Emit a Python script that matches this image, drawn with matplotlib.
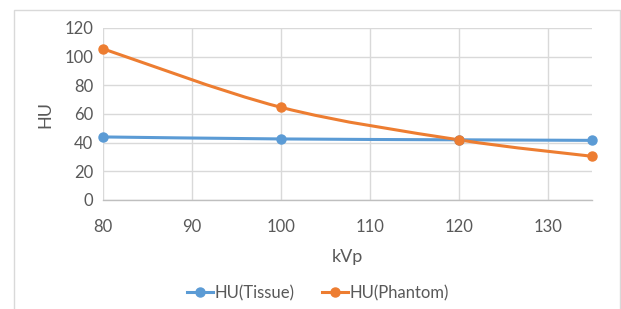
import matplotlib
matplotlib.use("Agg")
import matplotlib.pyplot as plt
from matplotlib.path import Path
from matplotlib.patches import PathPatch, Rectangle
from matplotlib.lines import Line2D
import numpy as np

kvp = [80, 100, 120, 135]
hu_tissue = [44, 42.6, 42, 41.6]
hu_phantom = [105.5, 64.7, 42, 30.5]
series_names = ["HU(Tissue)", "HU(Phantom)"]
colors = ["#5B9BD5", "#ED7D31"]
x_ticks = [80, 90, 100, 110, 120, 130]
y_ticks = [0, 20, 40, 60, 80, 100, 120]

plt.rcParams['font.family'] = ['Lato', 'DejaVu Sans']
text_color = "#595959"

fig = plt.figure(figsize=(6.21, 3.09), dpi=100)
fig.patches.append(Rectangle((14 / 621, -0.1), 606 / 621, 1 - 10 / 309 + 0.1,
                             transform=fig.transFigure, fill=False,
                             edgecolor="#d9d9d9", linewidth=1.0))
ax = fig.add_axes([103 / 621, 1 - 200 / 309, (592 - 103) / 621, (200 - 28) / 309])


def smooth_path(xs, ys):
    pts = np.column_stack([xs, ys]).astype(float)
    n = len(pts)
    verts = [pts[0]]
    codes = [Path.MOVETO]
    for i in range(n - 1):
        p0 = pts[i - 1] if i > 0 else pts[i]
        p1 = pts[i]
        p2 = pts[i + 1]
        p3 = pts[i + 2] if i + 2 < n else pts[i + 1]
        c1 = p1 + (p2 - p0) / 6.0
        c2 = p2 - (p3 - p1) / 6.0
        verts += [c1, c2, p2]
        codes += [Path.CURVE4] * 3
    return Path(verts, codes)


for ys, c in zip([hu_tissue, hu_phantom], colors):
    patch = PathPatch(smooth_path(kvp, ys), facecolor="none", edgecolor=c,
                      linewidth=2.2, transform=ax.transData, zorder=3,
                      capstyle="round")
    ax.add_patch(patch)
    ax.plot(kvp, ys, linestyle="none", marker="o", markersize=6.5,
            color=c, zorder=4, clip_on=False)

ax.set_xlim(80, 135)
ax.set_ylim(0, 120)
ax.set_xticks(x_ticks)
ax.set_yticks(y_ticks)
ax.grid(True, color="#d9d9d9", linewidth=1.0)
ax.set_axisbelow(True)
for s in ["top", "right", "left"]:
    ax.spines[s].set_visible(False)
ax.spines["bottom"].set_color("#bfbfbf")
ax.spines["bottom"].set_linewidth(1.0)
ax.tick_params(length=0, labelsize=12, labelcolor=text_color)
ax.tick_params(axis="x", pad=14)
ax.tick_params(axis="y", pad=7)
ax.set_xlabel("kVp", fontsize=13, color=text_color, labelpad=10)
ax.set_ylabel("HU", fontsize=13, color=text_color, labelpad=8)

handles = [Line2D([0], [0], color=c, linewidth=2.2, marker="o", markersize=6.5)
           for c in colors]
leg = fig.legend(handles, series_names, loc="center", bbox_to_anchor=(318 / 621, 1 - 293 / 309),
                 ncol=2, frameon=False, fontsize=12, handlelength=1.6,
                 handletextpad=0.1, columnspacing=1.6, labelcolor=text_color)

fig.savefig("out.png", dpi=100)
